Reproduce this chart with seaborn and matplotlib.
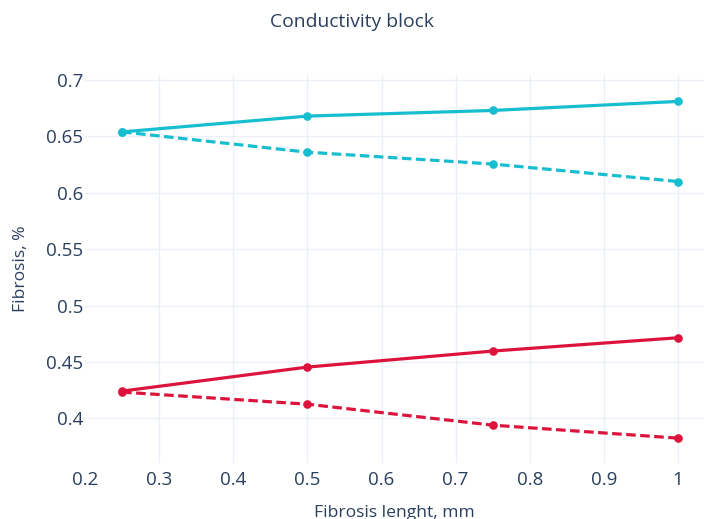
import matplotlib
matplotlib.use("Agg")
import matplotlib.pyplot as plt
import seaborn as sns
import pandas as pd

# Fibrosis length (mm) on the x axis
lengths = [0.25, 0.5, 0.75, 1.0]

# Fibrosis percentage for each configuration
cyan_solid = [0.654, 0.668, 0.673, 0.681]
cyan_dashed = [0.654, 0.636, 0.6255, 0.610]
red_solid = [0.4242, 0.4455, 0.4597, 0.4715]
red_dashed = [0.4233, 0.4126, 0.3940, 0.3825]

series_names = ["cyan_solid", "cyan_dashed", "red_solid", "red_dashed"]
series_values = [cyan_solid, cyan_dashed, red_solid, red_dashed]

x_ticks = [0.2, 0.3, 0.4, 0.5, 0.6, 0.7, 0.8, 0.9, 1.0]
x_tick_labels = ["0.2", "0.3", "0.4", "0.5", "0.6", "0.7", "0.8", "0.9", "1"]
y_ticks = [0.4, 0.45, 0.5, 0.55, 0.6, 0.65, 0.7]
y_tick_labels = ["0.4", "0.45", "0.5", "0.55", "0.6", "0.65", "0.7"]

rows = []
for name, vals in zip(series_names, series_values):
    for x, y in zip(lengths, vals):
        rows.append({"length": x, "fibrosis": y, "series": name})
df = pd.DataFrame(rows)

sns.set_theme(style="white")
plt.rcParams["font.family"] = ["Open Sans", "DejaVu Sans"]

text_color = "#2a3f5f"
grid_color = "#ebf0f8"
cyan = "#17becf"
red = "#dc143c"

palette = {"cyan_solid": cyan, "cyan_dashed": cyan, "red_solid": red, "red_dashed": red}
dashes = {"cyan_solid": "", "cyan_dashed": (3, 1.4), "red_solid": "", "red_dashed": (3, 1.4)}

W, H = 704, 519
fig = plt.figure(figsize=(W / 100, H / 100), dpi=100)
ax = fig.add_axes([85 / W, (H - 463) / H, (704 - 85) / W, (463 - 75) / H])

sns.lineplot(
    data=df, x="length", y="fibrosis", hue="series", style="series",
    palette=palette, dashes=dashes, markers={n: "o" for n in series_names},
    markersize=6.2, markeredgewidth=0, linewidth=2.3, legend=False, ax=ax,
    sort=False,
)

ax.set_xlim(0.2, 0.2 + (704 - 85) / 74.125 * 0.1)
ax.set_ylim(0.7 - (463 - 80) * 0.05 / 56.4, 0.7 + 5 * 0.05 / 56.4)

ax.set_xticks(x_ticks)
ax.set_xticklabels(x_tick_labels)
ax.set_yticks(y_ticks)
ax.set_yticklabels(y_tick_labels)

ax.grid(True, color=grid_color, linewidth=1)
ax.set_axisbelow(True)
# the left edge of the plot area carries no gridline
ax.xaxis.get_gridlines()[0].set_visible(False)
for s in ax.spines.values():
    s.set_visible(False)

ax.tick_params(axis="both", length=0, labelsize=13.5, colors=text_color)
ax.tick_params(axis="x", pad=6)
ax.tick_params(axis="y", pad=1.5)

ax.set_xlabel("Fibrosis lenght, mm", fontsize=12.6, color=text_color, labelpad=11)
ax.set_ylabel("Fibrosis, %", fontsize=12.6, color=text_color, labelpad=12)

fig.text(0.5, 1 - 22 / H, "Conductivity block", ha="center", va="center",
         fontsize=13.9, color=text_color)

fig.savefig("out.png", dpi=100)
